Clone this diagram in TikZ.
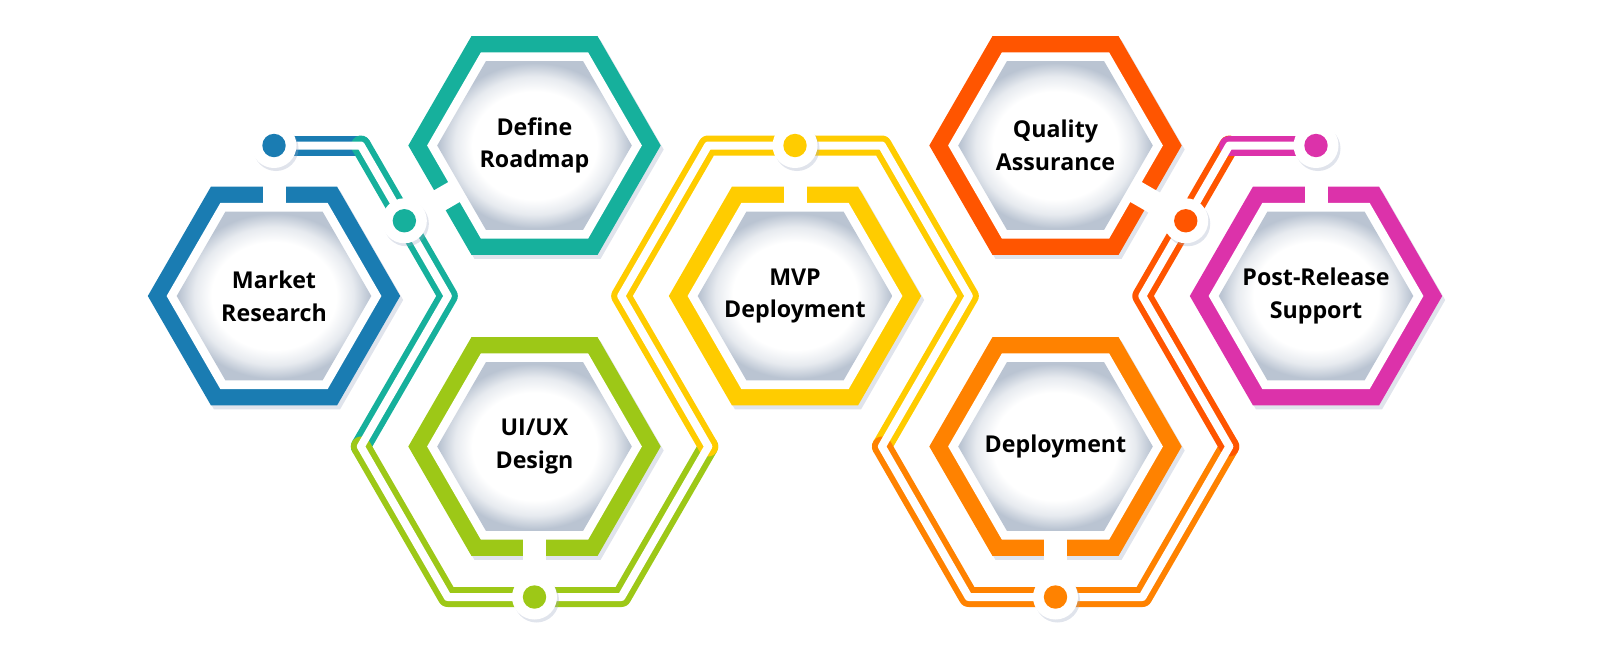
\documentclass[tikz,border=0pt]{standalone}
\usepackage{fontspec}
\setmainfont{Open Sans}
\usetikzlibrary{shadows}

\definecolor{mrblue}{HTML}{1A7CB2}
\definecolor{drteal}{HTML}{16B09C}
\definecolor{uigreen}{HTML}{9DC817}
\definecolor{mvpyellow}{HTML}{FFCC00}
\definecolor{qared}{HTML}{FF5500}
\definecolor{deporange}{HTML}{FF8200}
\definecolor{prpink}{HTML}{DC32AA}
\definecolor{coregray}{HTML}{BAC4D2}
\definecolor{shadowblue}{HTML}{9AA5C0}

\pgfdeclareradialshading{coreshade}{\pgfpoint{0bp}{0bp}}{color(0bp)=(white); color(16bp)=(white); color(20.5bp)=(coregray!35!white); color(24.5bp)=(coregray); color(50bp)=(coregray)}

\tikzset{
  hexpath/.style={insert path={+(0:#1) -- +(60:#1) -- +(120:#1) -- +(180:#1) -- +(240:#1) -- +(300:#1) -- cycle}},
  wire/.style={draw=#1, line width=10pt, line cap=round, line join=round},
  wire gap/.style={draw=white, line width=4pt, line cap=round, line join=round},
  stem/.style={draw=white, line width=11.5pt},
  ringshadow/.style={drop shadow={shadow xshift=1.5pt, shadow yshift=-2pt, opacity=.3, fill=shadowblue}},
  pin disc/.style={circle, fill=white, minimum size=22.5pt, inner sep=0pt,
    drop shadow={shadow xshift=1pt, shadow yshift=-1.5pt, opacity=.3, fill=shadowblue}},
  pin core/.style={circle, fill=#1, minimum size=11.7pt, inner sep=0pt},
  tile text/.style={font=\fontsize{11.6}{16.3}\selectfont\bfseries, align=center, text=black},
}

\begin{document}
\begin{tikzpicture}[x=0.5pt, y=-0.5pt]
    \useasboundingbox (0,0) rectangle (1600,654);

    % centres des tuiles
    \coordinate (mr) at (274,296);
    \coordinate (dr) at (534.5,145.5);
    \coordinate (ui) at (534.5,446.5);
    \coordinate (mvp) at (795,296);
    \coordinate (qa) at (1055.5,145.5);
    \coordinate (dep) at (1055.5,446.5);
    \coordinate (pr) at (1316,296);

    \coordinate (p0) at (274,145.5);
    \coordinate (p1) at (360.9,145.5);
    \coordinate (p2) at (447.8,296);
    \coordinate (p3) at (360.8,446.5);
    \coordinate (p4) at (447.7,597);
    \coordinate (p5) at (621.4,597);
    \coordinate (p6) at (708.3,446.5);
    \coordinate (p7) at (621.2,296);
    \coordinate (p8) at (708.1,145.5);
    \coordinate (p9) at (881.9,145.5);
    \coordinate (p10) at (968.8,296);
    \coordinate (p11) at (881.9,446.5);
    \coordinate (p12) at (968.6,597);
    \coordinate (p13) at (1142.4,597);
    \coordinate (p14) at (1229.3,446.5);
    \coordinate (p15) at (1142.3,296);
    \coordinate (p16) at (1229.2,145.5);
    \coordinate (p17) at (1316,145.5);

    \coordinate (mr-pin) at (p0);
    \coordinate (dr-pin) at (404.35,220.75);
    \coordinate (ui-pin) at (534.5,597);
    \coordinate (mvp-pin) at (795,145.5);
    \coordinate (qa-pin) at (1185.75,220.75);
    \coordinate (dep-pin) at (1055.5,597);
    \coordinate (pr-pin) at (p17);

    \draw[wire=mrblue] (p0) -- (p1);
    \draw[wire=drteal] (p1) -- (p2) -- (p3);
    \draw[wire=uigreen] (p3) -- (p4) -- (p5) -- (p6);
    \draw[wire=mvpyellow] (p6) -- (p7) -- (p8) -- (p9) -- (p10) -- (p11);
    \draw[wire=deporange] (p11) -- (p12) -- (p13) -- (p14);
    \draw[wire=qared] (p14) -- (p15) -- (p16);
    \draw[wire=prpink] (p16) -- (p17);
    \draw[wire gap] (p0) -- (p1) -- (p2) -- (p3) -- (p4) -- (p5) -- (p6) -- (p7) -- (p8)
      -- (p9) -- (p10) -- (p11) -- (p12) -- (p13) -- (p14) -- (p15) -- (p16) -- (p17);

    \foreach \n/\c in {mr/mrblue, dr/drteal, ui/uigreen, mvp/mvpyellow, qa/qared, dep/deporange, pr/prpink} {
      \fill[\c, ringshadow] (\n) [hexpath=126.2];
      \fill[white] (\n) [hexpath=107.4];
    }
    \foreach \n in {mr, dr, ui, mvp, qa, dep, pr}
      \draw[stem] (\n-pin) -- (\n);
    \foreach \n in {mr, dr, ui, mvp, qa, dep, pr}
      \shade[shading=coreshade] (\n) [hexpath=97.3];

    \foreach \n/\c in {mr/mrblue, dr/drteal, ui/uigreen, mvp/mvpyellow, qa/qared, dep/deporange, pr/prpink} {
      \node[pin disc] (\n-dot) at (\n-pin) {};
      \node[pin core=\c] (\n-core) at (\n-dot) {};
    }

    \node[tile text] (mrtxt) at (mr) {Market\\Research};
    \node[tile text] (drtxt) at (dr) {Define\\Roadmap};
    \node[tile text] (uitxt) at (ui) {UI/UX\\Design};
    \node[tile text] (mvptxt) at (mvp) {MVP\\Deployment};
    \node[tile text] (qatxt) at (qa) {Quality\\Assurance};
    \node[tile text] (deptxt) at (dep) {Deployment};
    \node[tile text] (prtxt) at (pr) {Post-Release\\Support};
\end{tikzpicture}
\end{document}
